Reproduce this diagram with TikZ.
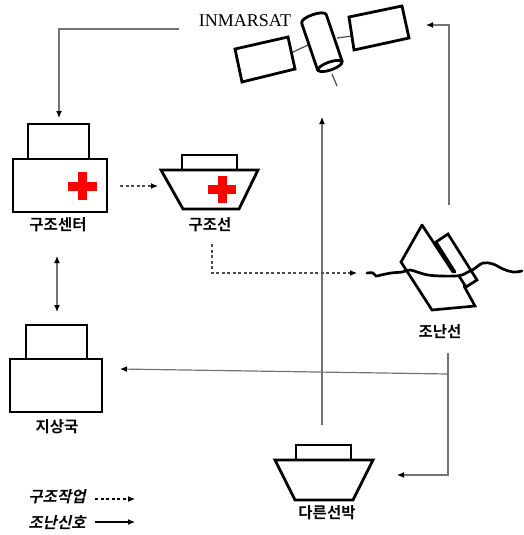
\documentclass[tikz,border=0pt]{standalone}
\usepackage{fontspec}
\setmainfont{Liberation Serif}
\newfontfamily\kr{Noto Sans CJK KR Bold}
\newfontfamily\krit[FakeSlant=0.22]{Noto Sans CJK KR Bold}
\usetikzlibrary{arrows.meta}

\begin{document}
\begin{tikzpicture}[x=1pt,y=-1pt,
  outline/.style={draw=black, line width=2.8pt, line join=miter, fill=white},
  thick line/.style={draw=black, line width=2.7pt, line join=miter, line cap=round},
  redcross/.style={fill=red, draw=none},
  tip/.style={-{Latex[length=7pt,width=6pt,color=black]}},
  link/.style={draw=black!55, line width=1.2pt, tip},
  worklink/.style={draw=black!70, line width=1.1pt, dash pattern=on 3pt off 2.5pt, tip},
  label/.style={font=\kr\fontsize{15.5}{17}\selectfont, inner sep=0pt},
  legendtext/.style={font=\krit\fontsize{15.5}{17}\selectfont, inner sep=0pt}]

\useasboundingbox (0,0) rectangle (523,535);

% ---------- satellite ----------
\node[font=\fontsize{18}{20}\selectfont, inner sep=0pt] (inmarsat) at (245,21) {INMARSAT};
\draw[black!70, line width=1.2pt] (293,52) -- (308,45);
\draw[black!70, line width=1.2pt] (337,38) -- (352,36);
\draw[black!70, line width=1.2pt] (332,74) -- (337,86);
\draw[outline] (235,49) -- (288,37) -- (295,69) -- (242,82) -- cycle;
\draw[outline] (349,17) -- (402,6) -- (409,38) -- (354,50) -- cycle;
\draw[outline, line join=round] (301.7,23.3) .. controls (299.7,17.6) and (324.3,9) .. (326.3,14.7)
   -- (342.3,61.7) -- (317.7,70.3) -- cycle;
\draw[outline, rotate around={19.2:(330,66)}] (330,66) ellipse [x radius=12.6, y radius=4];
\coordinate (satbody) at (322,117);

% ---------- rescue centre ----------
\draw[outline] (28,124) rectangle (89,159);
\draw[outline] (13,159) rectangle (107,212);
\fill[redcross] (68,181.5) rectangle (97,190.5);
\fill[redcross] (77.5,172) rectangle (86.5,200);
\node[label] (center) at (58,225) {구조센터};
\coordinate (centerTop) at (59,118);
\coordinate (centerRight) at (120,186);
\coordinate (centerBottom) at (57,256);

% ---------- rescue ship ----------
\draw[outline] (182,155) rectangle (237,170);
\draw[outline] (161,170) -- (258,170) -- (239,209) -- (183,209) -- cycle;
\fill[redcross] (208,185) rectangle (236,194);
\fill[redcross] (217.5,176) rectangle (226.5,203);
\node[label] (rship) at (210,225) {구조선};
\coordinate (rshipLeft) at (158,186);
\coordinate (rshipBottom) at (212,244);

% ---------- ship in distress ----------
\draw[thick line] (422,225) -- (453,272);
\draw[thick line] (422,225) -- (401,262) -- (432,310) -- (475,306) -- (464,286);
\draw[thick line] (455,272) -- (436,242) -- (448,234) -- (477,280) -- (466,287) -- (459,276);
\draw[thick line] plot[smooth, tension=0.6] coordinates {
  (367,273) (373,273) (376,276) (381,275) (391,273) (402,272) (410,270) (417,272)
  (428,275) (441,276) (455,276) (462,275) (468,272) (474,269) (483,263) (493,264)
  (503,269) (513,272) (522,271)};
\node[label] (distress) at (440,332) {조난선};
\coordinate (distressLeft) at (357,273);
\coordinate (distressTop) at (449,205);
\coordinate (distressBottom) at (448,353);
\coordinate (distressSplit) at (448,374);

% ---------- ground station ----------
\draw[outline] (26,325) rectangle (87,359);
\draw[outline] (10,359) rectangle (102,412);
\node[label] (ground) at (57,427) {지상국};
\coordinate (groundTop) at (57,312);
\coordinate (groundRight) at (120,369);

% ---------- other ship ----------
\draw[outline] (296,445) rectangle (351,460);
\draw[outline] (275,460) -- (373,460) -- (353,500) -- (295,500) -- cycle;
\node[label] (other) at (327,513) {다른선박};
\coordinate (otherTop) at (322,425);
\coordinate (otherRight) at (397,475);

\coordinate (satLeftArm) at (179,29);
\coordinate (satRightArm) at (426,25);

% ---------- connectors ----------
\draw[link] (satLeftArm) -| (centerTop);
\draw[link] (distressTop) |- (satRightArm);
\draw[link] (otherTop) -- (satbody);
\draw[draw=black!55, line width=1.2pt, {Latex[length=7pt,width=6pt,color=black]}-{Latex[length=7pt,width=6pt,color=black]}] (centerBottom) -- (groundTop);
\draw[link] (distressSplit) -- (groundRight);
\draw[link] (distressBottom) |- (otherRight);
\draw[worklink] (centerRight) -- (rshipLeft);
\draw[worklink] (rshipBottom) |- (distressLeft);

% ---------- legend ----------
\node[legendtext] (legWork) at (57,497) {구조작업};
\node[legendtext] (legSignal) at (57,523) {조난신호};
\coordinate (legWorkStart) at (95,499);
\coordinate (legWorkEnd) at (135,499);
\coordinate (legSignalStart) at (95,522);
\coordinate (legSignalEnd) at (135,522);
\draw[worklink, draw=black] (legWorkStart) -- (legWorkEnd);
\draw[link, draw=black] (legSignalStart) -- (legSignalEnd);
\end{tikzpicture}
\end{document}
